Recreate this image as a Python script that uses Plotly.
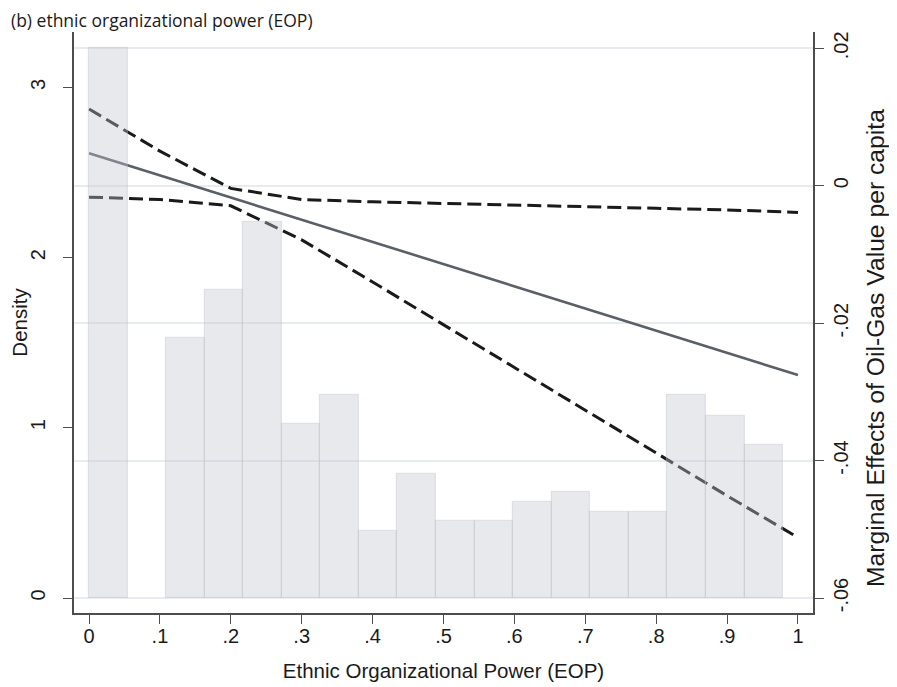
import plotly.graph_objects as go

# ---- data ----
bin_lo = [0.0, 0.0544, 0.1088, 0.1632, 0.2176, 0.2720, 0.3263, 0.3807, 0.4351,
          0.4895, 0.5439, 0.5983, 0.6527, 0.7071, 0.7615, 0.8159, 0.8702, 0.9246]
bin_width = 0.0544
density = [3.23, 0.0, 1.53, 1.81, 2.21, 1.02, 1.19, 0.395, 0.73,
           0.45, 0.45, 0.565, 0.62, 0.507, 0.507, 1.19, 1.07, 0.90]

eop = [0.0, 0.1, 0.2, 0.3, 0.4, 0.5, 0.6, 0.7, 0.8, 0.9, 1.0]
me = [0.00474, 0.00151, -0.00172, -0.00495, -0.00818, -0.01141,
      -0.01463, -0.01786, -0.02109, -0.02432, -0.02755]
ci_upper = [0.01117, 0.00503, -0.00039, -0.00201, -0.00234, -0.00260,
            -0.00284, -0.00307, -0.00329, -0.00352, -0.00388]
ci_lower = [-0.00166, -0.00201, -0.00292, -0.00788, -0.01401, -0.02020,
            -0.02643, -0.03265, -0.03889, -0.04512, -0.05120]

x_ticks = [0, 0.1, 0.2, 0.3, 0.4, 0.5, 0.6, 0.7, 0.8, 0.9, 1.0]
x_ticktext = ["0", ".1", ".2", ".3", ".4", ".5", ".6", ".7", ".8", ".9", "1"]
left_ticks = [0, 1, 2, 3]
right_ticks = [-0.06, -0.04, -0.02, 0, 0.02]
right_ticktext = ["-.06", "-.04", "-.02", "0", ".02"]

title_text = "(b) ethnic organizational power (EOP)"
x_title = "Ethnic Organizational Power (EOP)"
left_title = "Density"
right_title = "Marginal Effects of Oil-Gas Value per capita"

# ---- figure ----
fig = go.Figure()

dash_style = "14px,6px"
fig.add_trace(go.Scatter(x=eop, y=ci_upper, mode="lines", yaxis="y",
                         line=dict(color="#1a1a1a", width=3, dash=dash_style),
                         hoverinfo="skip"))
fig.add_trace(go.Scatter(x=eop, y=ci_lower, mode="lines", yaxis="y",
                         line=dict(color="#1a1a1a", width=3, dash=dash_style),
                         hoverinfo="skip"))
fig.add_trace(go.Scatter(x=eop, y=me, mode="lines", yaxis="y",
                         line=dict(color="#5a6067", width=2.6),
                         hoverinfo="skip"))

bx = [lo + bin_width / 2 for lo, d in zip(bin_lo, density) if d > 0]
by = [d for d in density if d > 0]
fig.add_trace(go.Bar(x=bx, y=by, width=bin_width, yaxis="y2",
                     marker=dict(color="rgba(195,197,208,0.38)",
                                 line=dict(color="rgba(185,189,200,0.35)", width=1.2))))

FONT = "Liberation Sans, Arial, sans-serif"
tick_font = dict(family=FONT, size=20, color="#1a1a1a")
title_font = dict(family=FONT, size=20.5, color="#1a1a1a")

axis_common = dict(zeroline=False, showline=True, linecolor="#4d4d4d", linewidth=1.6,
                   ticks="outside", ticklen=9, tickwidth=1.4, tickcolor="#4d4d4d",
                   tickfont=tick_font, automargin=False)

fig.update_layout(
    width=889, height=679,
    margin=dict(l=66, r=84, t=24, b=74),
    paper_bgcolor="white", plot_bgcolor="white",
    showlegend=False,
    bargap=0,
    xaxis=dict(range=[-0.0212, 1.0212], tickvals=x_ticks, ticktext=x_ticktext,
               showgrid=False, ticklabelstandoff=-5,
               title=dict(text=x_title, font=title_font, standoff=18),
               **axis_common),
    yaxis=dict(side="right", range=[-0.06218, 0.02237], tickvals=right_ticks,
               ticktext=right_ticktext, tickangle=-90,
               showgrid=True, gridcolor="#e8ecf0", gridwidth=2,
               **axis_common),
    yaxis2=dict(side="left", overlaying="y", range=[-0.0881, 3.325], tickvals=left_ticks,
                tickangle=-90, showgrid=False, ticklabelstandoff=10,
                title=dict(text=left_title, font=title_font, standoff=8),
                **axis_common),
    annotations=[
        dict(text=title_text, xref="paper", yref="paper", x=0, y=1,
             xanchor="left", yanchor="middle", xshift=-65, yshift=12,
             showarrow=False,
             font=dict(family="Open Sans, Noto Sans, sans-serif", size=17.5, color="#1a1a1a")),
        dict(text=right_title, xref="paper", yref="paper", x=1, y=0.468,
             xanchor="center", yanchor="middle", xshift=62, yshift=-7, textangle=-90,
             showarrow=False, font=dict(family=FONT, size=24.7, color="#1a1a1a")),
    ],
)

fig.write_html("out.html")
